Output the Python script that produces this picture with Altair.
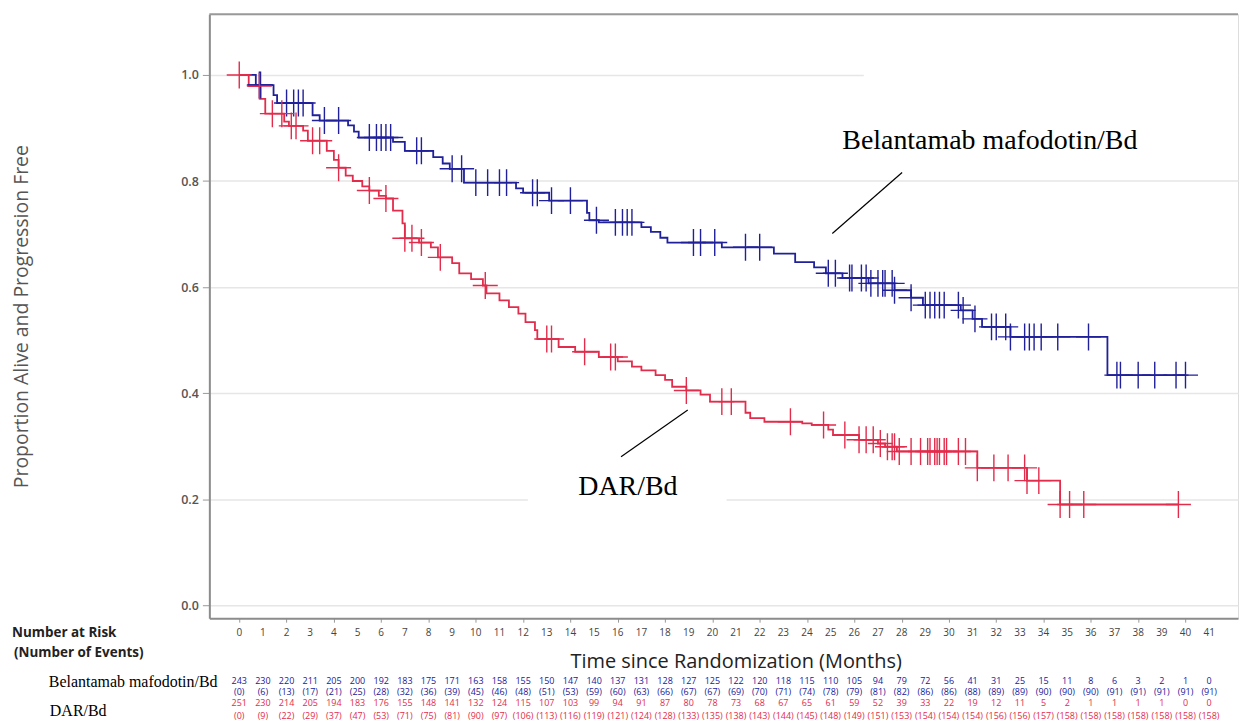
import altair as alt
import pandas as pd

# ---------------- data ----------------
months = list(range(42))
bel_risk = [243, 230, 220, 211, 205, 200, 192, 183, 175, 171, 163, 158, 155, 150, 147, 140, 137, 131, 128, 127, 125,
            122, 120, 118, 115, 110, 105, 94, 79, 72, 56, 41, 31, 25, 15, 11, 8, 6, 3, 2, 1, 0]
bel_events = [0, 6, 13, 17, 21, 25, 28, 32, 36, 39, 45, 46, 48, 51, 53, 59, 60, 63, 66, 67, 67,
              69, 70, 71, 74, 78, 79, 81, 82, 86, 86, 88, 89, 89, 90, 90, 90, 91, 91, 91, 91, 91]
dar_risk = [251, 230, 214, 205, 194, 183, 176, 155, 148, 141, 132, 124, 115, 107, 103, 99, 94, 91, 87, 80, 78,
            73, 68, 67, 65, 61, 59, 52, 39, 33, 22, 19, 12, 11, 5, 2, 1, 1, 1, 1, 0, 0]
dar_events = [0, 9, 22, 29, 37, 47, 53, 71, 75, 81, 90, 97, 106, 113, 116, 119, 121, 124, 128, 133, 135,
              138, 143, 144, 145, 148, 149, 151, 153, 154, 154, 154, 156, 156, 157, 158, 158, 158, 158, 158, 158, 158]

# Kaplan-Meier step points (time in months, proportion after the drop)
bel_t = [0, 0.7, 1.45, 1.6, 3.1, 3.4, 4.6, 4.85, 5.05, 6.5, 7.0, 8.2, 8.6, 8.9, 9.5, 11.7, 12.0, 13.1, 14.7,
         14.8, 15.2, 17.0, 17.4, 17.8, 18.1, 20.4, 22.6, 23.5, 24.3, 24.8, 25.5, 26.6, 27.7, 28.4, 28.9,
         30.5, 31.0, 31.4, 32.6, 36.7]
bel_s = [1.0, 0.981, 0.962, 0.947, 0.924, 0.914, 0.905, 0.893, 0.882, 0.874, 0.857, 0.845, 0.833, 0.823, 0.797,
         0.786, 0.778, 0.763, 0.74, 0.726, 0.722, 0.713, 0.704, 0.693, 0.684, 0.675, 0.663, 0.647, 0.637, 0.626,
         0.617, 0.607, 0.594, 0.58, 0.566, 0.556, 0.54, 0.525, 0.506, 0.434]
bel_cens = [0.85, 0.9, 2.0, 2.3, 2.5, 2.7, 3.6, 4.2, 5.5, 5.8, 6.0, 6.2, 6.4, 7.5, 7.7, 9.0, 9.4, 10.0, 10.5,
            11.0, 11.3, 12.4, 12.6, 13.2, 14.0, 15.1, 15.9, 16.2, 16.4, 16.6, 19.2, 19.5, 20.1, 21.4, 22.0,
            24.9, 25.2, 25.8, 25.9, 26.3, 26.5, 26.7, 27.0, 27.2, 27.3, 27.6, 27.7, 28.4, 29.0, 29.2, 29.4,
            29.6, 29.8, 30.4, 30.6, 31.1, 31.8, 32.0, 32.4, 32.6, 33.2, 33.4, 33.6, 33.9, 34.6, 35.9,
            37.1, 37.25, 38.0, 38.7, 39.6, 40.0]

dar_t = [0, 0.4, 0.9, 1.1, 1.9, 2.1, 2.7, 2.9, 3.7, 4.0, 4.2, 4.5, 4.8, 5.2, 5.5, 5.9, 6.2, 6.5, 6.9, 7.0, 7.6,
         8.1, 8.4, 9.0, 9.3, 9.8, 10.3, 10.45, 11.0, 11.4, 11.8, 12.1, 12.5, 12.6, 13.5, 14.2, 15.2, 16.0,
         16.6, 17.0, 17.6, 18.0, 18.3, 18.9, 19.5, 19.9, 21.4, 21.6, 22.2, 23.8, 24.2, 24.9, 25.1, 26.2,
         27.0, 27.3, 27.8, 31.2, 33.3, 34.7]
dar_s = [1.0, 0.979, 0.955, 0.927, 0.912, 0.904, 0.895, 0.876, 0.857, 0.84, 0.825, 0.81, 0.80, 0.79, 0.782,
         0.772, 0.767, 0.744, 0.72, 0.692, 0.684, 0.675, 0.656, 0.645, 0.626, 0.615, 0.603, 0.588, 0.575,
         0.562, 0.55, 0.534, 0.519, 0.502, 0.487, 0.478, 0.468, 0.46, 0.45, 0.443, 0.434, 0.425, 0.412,
         0.405, 0.397, 0.384, 0.363, 0.353, 0.346, 0.343, 0.340, 0.331, 0.321, 0.312, 0.305, 0.299, 0.29,
         0.259, 0.235, 0.19]
dar_cens = [0.0, 0.85, 1.4, 1.8, 2.2, 2.4, 3.1, 3.4, 4.2, 5.5, 6.2, 7.0, 7.3, 7.7, 8.5, 10.4, 13.0, 13.2, 14.6,
            15.7, 15.9, 18.9, 20.4, 20.8, 23.3, 24.7, 25.6, 26.2, 26.5, 26.8, 27.1, 27.4, 27.6, 27.7, 27.9,
            28.4, 28.8, 29.1, 29.2, 29.4, 29.5, 29.6, 29.8, 29.9, 30.4, 30.7, 31.2, 31.9, 32.5, 33.2, 33.3,
            33.8, 34.7, 35.1, 35.7, 39.7]

arms = ["Belantamab mafodotin/Bd", "DAR/Bd"]
BLUE = "#20209a"
RED = "#e22c4c"

W, H = 1032, 606
XMIN, XMAX = -1.264, 42.22
YMIN, YMAX = -0.0244, 1.1147


def curve_df(ts, ss, end, arm):
    return pd.DataFrame({"t": list(ts) + [end], "s": list(ss) + [ss[-1]], "arm": arm})


def cens_df(ts, ss, cens, arm):
    vals = []
    for c in cens:
        idx = max(i for i, tt in enumerate(ts) if tt <= c + 1e-9)
        vals.append(ss[idx])
    return pd.DataFrame({"t": cens, "s": vals, "arm": arm})


curves = pd.concat([curve_df(bel_t, bel_s, bel_cens[-1], arms[0]),
                    curve_df(dar_t, dar_s, dar_cens[-1], arms[1])])
censors = pd.concat([cens_df(bel_t, bel_s, bel_cens, arms[0]),
                     cens_df(dar_t, dar_s, dar_cens, arms[1])])

xscale = alt.Scale(domain=[XMIN, XMAX], nice=False, zero=False)
yscale = alt.Scale(domain=[YMIN, YMAX], nice=False, zero=False)
cscale = alt.Scale(domain=arms, range=[BLUE, RED])

xaxis = alt.Axis(values=months, title="Time since Randomization (Months)", grid=False, labels=False,
                 tickSize=4, tickColor="#999", domainColor="#8c8c8c", domainWidth=2,
                 titleFont="Open Sans", titleFontSize=20, titleFontWeight="normal", titleColor="#222",
                 titleX=W / 2 + 12, titleY=33, titleAlign="center", titleBaseline="top")
yaxis = alt.Axis(values=[0, 0.2, 0.4, 0.6, 0.8, 1.0], format=".1f", grid=True, gridColor="#e6e6e6",
                 gridWidth=1.5, labelFontSize=12.5, labelColor="#555", labelFont="Open Sans",
                 labelFontWeight=600, labelPadding=4, tickSize=7, tickColor="#999",
                 domainColor="#8c8c8c", domainWidth=2,
                 title="Proportion Alive and Progression Free", titleFont="Open Sans", titleFontSize=19.5,
                 titleFontWeight="normal", titleColor="#555", titleAngle=-90, titleX=-188, titleY=H / 2,
                 titleAlign="center", titleBaseline="middle")

lines = alt.Chart(curves).mark_line(interpolate="step-after", strokeWidth=1.8).encode(
    x=alt.X("t:Q", scale=xscale, axis=xaxis),
    y=alt.Y("s:Q", scale=yscale, axis=yaxis),
    color=alt.Color("arm:N", scale=cscale, legend=None),
    detail="arm:N",
)

CROSS = "M-0.93,0L0.93,0M0,-1L0,1"
marks = alt.Chart(censors).mark_point(shape=CROSS, size=729, filled=False, strokeWidth=1.4, opacity=1).encode(
    x=alt.X("t:Q", scale=xscale),
    y=alt.Y("s:Q", scale=yscale),
    color=alt.Color("arm:N", scale=cscale, legend=None),
)

# month tick labels
tick_lab = alt.Chart(pd.DataFrame({"m": months, "txt": [str(m) for m in months]})).mark_text(
    font="Open Sans", fontSize=10, color="#444", align="center", baseline="middle").encode(
    x=alt.X("m:Q", scale=xscale), y=alt.value(H + 15), text="txt:N")

# white patches from the pasted labels in the source figure
patches = pd.DataFrame({"x1": [26.4, 12.2], "x2": [XMAX, 20.6], "y1": [0.945, 0.19], "y2": [1.04, 0.26]})
patch = alt.Chart(patches).mark_rect(color="white").encode(
    x=alt.X("x1:Q", scale=xscale), x2="x2:Q", y=alt.Y("y1:Q", scale=yscale), y2="y2:Q")

# top frame line
top = alt.Chart(pd.DataFrame({"a": [0]})).mark_rule(color="#999", strokeWidth=2).encode(
    x=alt.value(0), x2=alt.value(W), y=alt.value(0))

# annotations
ann = pd.DataFrame({"t": [31.73, 16.43], "s": [0.876, 0.222], "label": arms})
ann_text = alt.Chart(ann).mark_text(font="Liberation Serif", fontSize=28, color="black",
                                    align="center", baseline="middle").encode(
    x=alt.X("t:Q", scale=xscale), y=alt.Y("s:Q", scale=yscale), text="label:N")
leaders = pd.DataFrame({"x1": [28.02, 18.96], "y1": [0.816, 0.368], "x2": [25.07, 16.14], "y2": [0.701, 0.280]})
leader = alt.Chart(leaders).mark_rule(color="black", strokeWidth=1.2).encode(
    x=alt.X("x1:Q", scale=xscale), y=alt.Y("y1:Q", scale=yscale), x2="x2:Q", y2="y2:Q")

# number-at-risk table
rows = []
for m, a, b, c, d in zip(months, bel_risk, bel_events, dar_risk, dar_events):
    rows.append({"m": m, "txt": str(a), "row": 0})
    rows.append({"m": m, "txt": f"({b})", "row": 1})
    rows.append({"m": m, "txt": str(c), "row": 2})
    rows.append({"m": m, "txt": f"({d})", "row": 3})
table = pd.DataFrame(rows)
row_y = [669, 680, 691, 704]
row_col = [BLUE, BLUE, RED, RED]
table_layers = []
for r in range(4):
    table_layers.append(
        alt.Chart(table[table.row == r]).mark_text(font="Open Sans", fontSize=9, color=row_col[r],
                                                  align="center", baseline="middle").encode(
            x=alt.X("m:Q", scale=xscale), y=alt.value(row_y[r]), text="txt:N"))

hdr = pd.DataFrame({"txt": ["Number at Risk", "(Number of Events)"], "xp": [-198, -196], "yp": [621, 641]})
header = alt.Chart(hdr).mark_text(font="Open Sans", fontSize=13.5, fontWeight="bold", color="#222",
                                  align="left", baseline="middle").encode(
    x=alt.X("xp:Q", scale=None), y=alt.Y("yp:Q", scale=None), text="txt:N")
arm_lab = pd.DataFrame({"txt": arms, "xp": [-161, -160], "yp": [670, 699]})
arm_labels = alt.Chart(arm_lab).mark_text(font="Liberation Serif", fontSize=16, color="black",
                                          align="left", baseline="middle").encode(
    x=alt.X("xp:Q", scale=None), y=alt.Y("yp:Q", scale=None), text="txt:N")

chart = alt.layer(lines, patch, marks, top, leader, ann_text, tick_lab, *table_layers, header,
                  arm_labels).properties(
    width=W, height=H,
    autosize=alt.AutoSizeParams(type="none"),
    padding={"left": 202, "top": 5, "right": 4, "bottom": 103},
).configure_view(stroke=None).configure(background="white")

chart.save("out.html", embed_options={"renderer": "svg", "actions": False})
